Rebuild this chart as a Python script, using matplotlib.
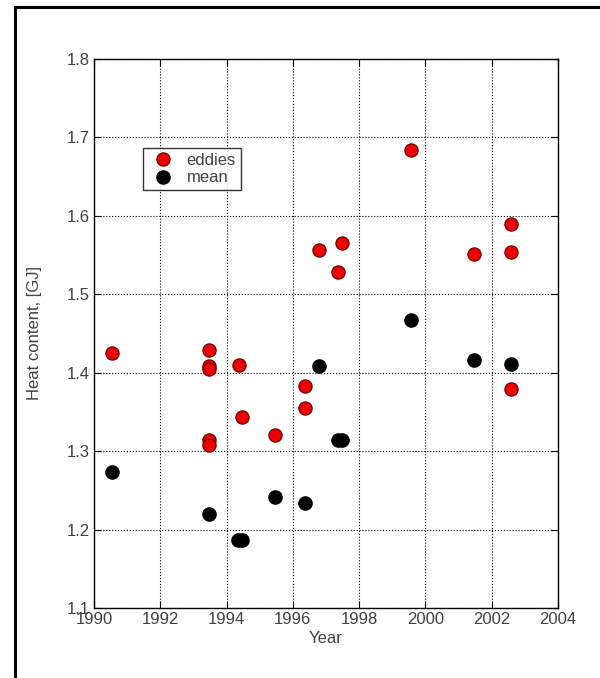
import matplotlib.pyplot as plt
from matplotlib.lines import Line2D

plt.rcParams['font.family'] = ['Liberation Sans', 'DejaVu Sans']

# eddies (red)
eddies_year = [1990.55, 1993.47, 1993.47, 1993.47, 1993.47, 1993.47, 1994.36, 1994.47,
               1995.47, 1996.37, 1996.37, 1996.78, 1997.37, 1997.47, 1999.56,
               2001.47, 2002.58, 2002.58, 2002.58]
eddies_heat = [1.425, 1.429, 1.4085, 1.405, 1.314, 1.308, 1.410, 1.343,
               1.320, 1.3835, 1.355, 1.5565, 1.528, 1.566, 1.684,
               1.552, 1.589, 1.5535, 1.379]

# mean (black)
mean_year = [1990.55, 1993.46, 1994.35, 1994.48, 1995.46, 1996.37, 1996.78, 1997.37, 1997.47,
             1999.56, 2001.47, 2002.58]
mean_heat = [1.273, 1.220, 1.187, 1.187, 1.241, 1.234, 1.4085, 1.314, 1.314,
             1.4667, 1.4165, 1.4115]

xticks = [1990, 1992, 1994, 1996, 1998, 2000, 2002, 2004]
yticks = [1.1, 1.2, 1.3, 1.4, 1.5, 1.6, 1.7, 1.8]

fig = plt.figure(figsize=(6, 6.78), dpi=100)
ax = fig.add_axes([94 / 600, 1 - 608 / 678, (558 - 94) / 600, (608 - 59) / 678])

ax.plot(eddies_year, eddies_heat, 'o', ls='none', ms=9.5, mfc='#ee0000', mec='#700000', mew=0.9,
        label='eddies')
ax.plot(mean_year, mean_heat, 'o', ls='none', ms=9.5, mfc='black', mec='black', label='mean')

ax.set_xlim(1990, 2004)
ax.set_ylim(1.1, 1.8)
ax.set_xticks(xticks)
ax.set_yticks(yticks)
ax.set_yticklabels(['%.1f' % v for v in yticks])
ax.tick_params(direction='in', top=True, right=True, length=5, labelsize=12,
               labelcolor='#404040', width=0.8, pad=3)
ax.grid(True, linestyle=':', color='black', linewidth=0.8)
for s in ax.spines.values():
    s.set_linewidth(1.0)

ax.set_xlabel('Year', fontsize=12, color='#404040', labelpad=3)
ax.set_ylabel('Heat content, [GJ]', fontsize=12, color='#404040', labelpad=18)

leg = ax.legend(loc='upper left', bbox_to_anchor=(0.106, 0.838), fontsize=12, frameon=True,
                fancybox=False, edgecolor='black', borderpad=0.3, handletextpad=0.5,
                labelspacing=0.15, handlelength=1.8, borderaxespad=0)
leg.get_frame().set_linewidth(1.0)
for t in leg.get_texts():
    t.set_color('#404040')

# outer frame (top and left edges)
fig.add_artist(Line2D([15 / 600, 1], [1 - 7 / 678, 1 - 7 / 678], color='black', lw=2.2,
                      transform=fig.transFigure))
fig.add_artist(Line2D([15 / 600, 15 / 600], [0, 1 - 7 / 678], color='black', lw=2.2,
                      transform=fig.transFigure))

fig.savefig('out.png', dpi=100)
